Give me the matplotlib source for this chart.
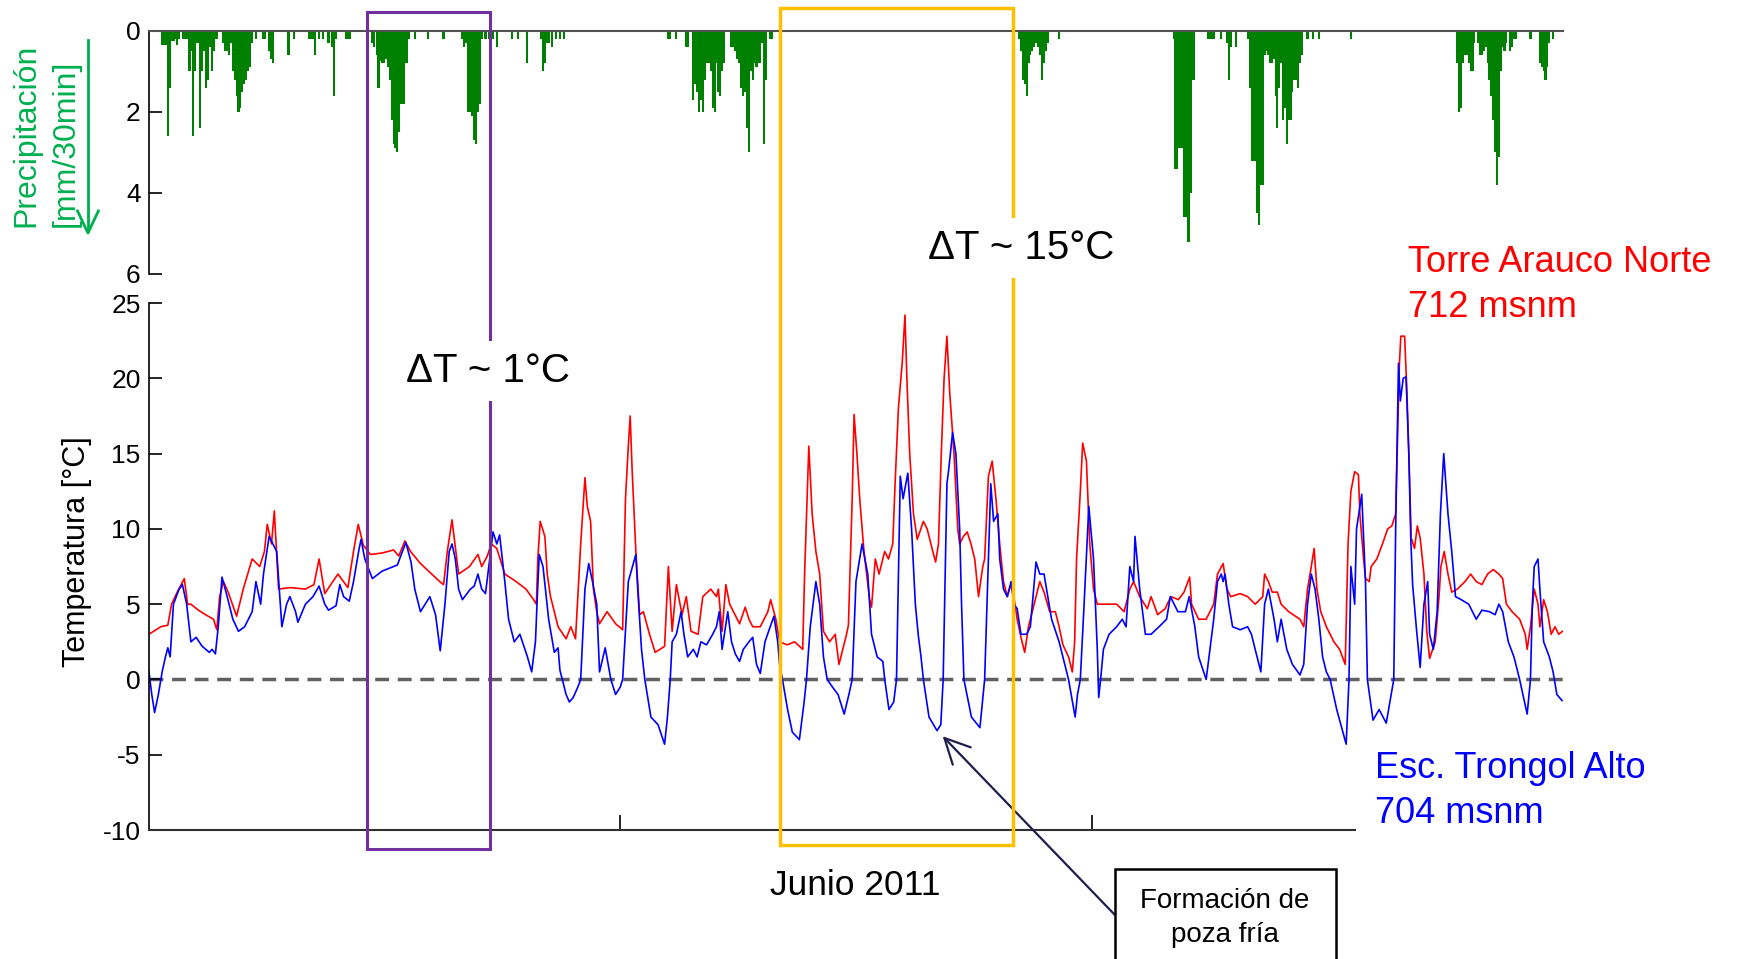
import matplotlib.pyplot as plt
import numpy as np
from matplotlib.patches import Rectangle
from matplotlib.transforms import blended_transform_factory

plt.rcParams['font.family'] = ['Liberation Sans', 'DejaVu Sans']
plt.rcParams['axes.unicode_minus'] = False

# --- data (x = days since 1 June 2011) ---
red_day = [0.00, 0.10, 0.25, 0.40, 0.48, 0.60, 0.75, 0.82, 0.89, 1.05, 1.20, 1.37, 1.44, 1.50, 1.58, 1.68,
           1.86, 2.00, 2.19, 2.35, 2.45, 2.51, 2.60, 2.66, 2.75, 3.00, 3.32, 3.50, 3.61, 3.73, 3.90, 4.01,
           4.22, 4.34, 4.44, 4.55, 4.70, 4.95, 5.19, 5.30, 5.43, 5.55, 5.76, 6.00, 6.17, 6.25, 6.33, 6.43,
           6.50, 6.57, 6.80, 6.98, 7.06, 7.18, 7.26, 7.38, 7.55, 7.79, 8.00, 8.16, 8.22, 8.25, 8.30, 8.40,
           8.45, 8.52, 8.68, 8.85, 8.95, 9.05, 9.16, 9.25, 9.30, 9.37, 9.43, 9.50, 9.56, 9.72, 9.90, 10.05,
           10.11, 10.17, 10.21, 10.25, 10.33, 10.41, 10.49, 10.62, 10.74, 10.94, 11.02, 11.10, 11.19, 11.31,
           11.40, 11.50, 11.65, 11.75, 11.92, 12.04, 12.08, 12.16, 12.24, 12.32, 12.40, 12.53, 12.65, 12.73,
           12.81, 12.97, 13.13, 13.19, 13.30, 13.38, 13.54, 13.70, 13.87, 13.91, 14.00, 14.07, 14.15, 14.23,
           14.31, 14.44, 14.56, 14.64, 14.72, 14.80, 14.84, 14.92, 14.96, 15.02, 15.08, 15.17, 15.29, 15.33,
           15.41, 15.49, 15.61, 15.69, 15.78, 15.83, 15.90, 15.98, 16.04, 16.08, 16.14, 16.22, 16.30, 16.43,
           16.51, 16.63, 16.69, 16.75, 16.81, 16.87, 16.93, 16.99, 17.08, 17.16, 17.20, 17.28, 17.36, 17.44,
           17.52, 17.60, 17.69, 17.73, 17.81, 17.89, 17.97, 18.05, 18.13, 18.21, 18.29, 18.35, 18.42, 18.50,
           18.58, 18.66, 18.74, 18.82, 18.90, 18.99, 19.11, 19.23, 19.31, 19.39, 19.51, 19.59, 19.64, 19.68,
           19.76, 19.81, 19.89, 19.96, 20.04, 20.12, 20.29, 20.53, 20.69, 20.81, 20.89, 21.02, 21.18, 21.26,
           21.32, 21.40, 21.56, 21.68, 21.84, 21.96, 22.08, 22.12, 22.27, 22.43, 22.59, 22.67, 22.79, 22.87,
           22.95, 23.15, 23.31, 23.47, 23.63, 23.67, 23.75, 23.83, 23.94, 24.02, 24.18, 24.42, 24.50, 24.58,
           24.66, 24.72, 24.78, 24.86, 24.98, 25.14, 25.26, 25.38, 25.44, 25.50, 25.58, 25.66, 25.69, 25.77,
           25.81, 25.89, 25.93, 26.05, 26.17, 26.28, 26.37, 26.45, 26.49, 26.53, 26.56, 26.64, 26.69, 26.73,
           26.78, 26.85, 26.91, 26.97, 27.05, 27.11, 27.17, 27.29, 27.37, 27.41, 27.48, 27.56, 27.64, 27.76,
           27.92, 28.04, 28.16, 28.28, 28.40, 28.52, 28.64, 28.72, 28.80, 28.92, 29.08, 29.20, 29.24, 29.31,
           29.39, 29.47, 29.51, 29.59, 29.67, 29.75, 29.83, 29.91, 29.99]
red_temp = [3.0, 3.2, 3.5, 3.6, 5.0, 5.8, 6.7, 5.0, 5.0, 4.6, 4.3, 4.0, 3.3, 5.5, 6.5, 5.8,
            4.2, 6.0, 8.0, 7.5, 8.5, 10.3, 9.0, 11.2, 6.0, 6.1, 6.0, 6.3, 8.0, 5.7, 6.5, 7.0,
            6.1, 8.5, 10.3, 8.9, 8.3, 8.4, 8.6, 8.2, 9.2, 8.5, 7.7, 7.0, 6.5, 6.3, 8.5, 10.6,
            8.8, 7.0, 7.5, 8.3, 7.5, 8.2, 9.0, 8.7, 7.0, 6.5, 6.0, 5.3, 5.0, 8.0, 10.5, 9.5,
            7.0, 5.5, 3.5, 2.7, 3.5, 2.7, 9.0, 13.4, 11.5, 10.5, 6.0, 4.5, 3.7, 4.5, 3.7, 3.3,
            12.0, 15.5, 17.5, 14.0, 8.5, 4.3, 4.5, 3.0, 1.8, 2.2, 7.5, 3.2, 6.3, 4.3,
            5.5, 3.2, 3.0, 5.5, 6.0, 5.5, 6.0, 3.2, 6.3, 5.0, 4.5, 3.7, 4.8, 4.0,
            3.5, 3.5, 4.5, 5.3, 4.0, 2.5, 2.3, 2.5, 2.0, 7.0, 15.5, 11.0, 8.5, 7.0,
            3.2, 2.5, 3.0, 1.0, 2.0, 3.0, 3.6, 12.0, 17.6, 15.0, 12.0, 8.5, 5.3, 4.8,
            8.0, 7.0, 8.5, 8.0, 9.0, 13.0, 18.0, 21.0, 24.2, 20.0, 15.0, 11.0, 9.3, 10.5,
            10.0, 8.5, 7.8, 9.0, 15.0, 20.0, 22.8, 19.0, 15.0, 10.0, 9.0, 9.5, 9.8, 9.0,
            8.0, 5.5, 7.5, 8.0, 13.5, 14.5, 12.0, 9.0, 6.5, 5.5, 6.3, 5.5, 4.0, 2.8,
            1.8, 3.5, 4.5, 5.5, 6.5, 5.8, 4.5, 4.5, 3.5, 2.3, 1.5, 0.5, 2.5, 8.0,
            12.5, 15.7, 14.5, 9.0, 6.0, 5.0, 5.0, 5.0, 4.5, 6.0, 6.5, 5.5, 4.7, 5.5,
            5.0, 4.3, 4.7, 5.5, 5.3, 5.8, 6.8, 5.0, 4.0, 4.0, 5.0, 7.0, 7.7, 6.0,
            5.5, 5.7, 5.5, 5.0, 5.5, 7.0, 6.5, 5.8, 5.8, 5.0, 4.5, 4.0, 3.5, 6.0,
            7.5, 8.7, 6.0, 4.5, 3.5, 2.5, 2.0, 1.0, 9.0, 12.5, 13.8, 13.6, 11.0, 8.0,
            6.7, 6.5, 7.5, 8.0, 9.0, 10.0, 10.2, 11.0, 16.0, 21.0, 22.8, 22.8, 19.0, 15.0,
            9.4, 8.7, 10.2, 9.4, 7.0, 3.2, 1.4, 2.5, 5.5, 7.5, 8.5, 7.0, 5.8, 6.0,
            6.5, 7.0, 6.5, 6.3, 7.0, 7.3, 7.0, 6.7, 5.0, 4.5, 4.0, 3.0, 2.0, 3.5,
            6.0, 5.0, 3.5, 5.3, 4.5, 3.0, 3.5, 3.0, 3.2]

blue_day = [0.00, 0.06, 0.12, 0.20, 0.28, 0.35, 0.40, 0.45, 0.52, 0.64, 0.71, 0.80, 0.89, 1.00, 1.13, 1.28,
            1.34, 1.41, 1.47, 1.55, 1.66, 1.78, 1.90, 2.03, 2.19, 2.27, 2.37, 2.43, 2.55, 2.63, 2.71, 2.82,
            2.92, 2.99, 3.11, 3.16, 3.32, 3.48, 3.61, 3.73, 3.81, 3.97, 4.05, 4.13, 4.25, 4.34, 4.46, 4.50,
            4.58, 4.74, 4.95, 5.27, 5.45, 5.56, 5.64, 5.76, 5.96, 6.08, 6.18, 6.28, 6.37, 6.43, 6.50, 6.57,
            6.65, 6.82, 6.90, 6.98, 7.06, 7.14, 7.30, 7.38, 7.44, 7.55, 7.63, 7.75, 7.87, 8.03, 8.12, 8.20,
            8.24, 8.28, 8.36, 8.48, 8.60, 8.68, 8.72, 8.77, 8.85, 8.92, 9.00, 9.10, 9.16, 9.25, 9.33, 9.41,
            9.50, 9.56, 9.68, 9.80, 9.90, 10.00, 10.05, 10.17, 10.33, 10.37, 10.45, 10.52, 10.65, 10.80,
            10.94, 11.00, 11.06, 11.10, 11.19, 11.29, 11.35, 11.43, 11.55, 11.63, 11.71, 11.83, 11.96, 12.04,
            12.10, 12.16, 12.28, 12.36, 12.44, 12.53, 12.61, 12.73, 12.81, 12.89, 12.97, 13.07, 13.18, 13.26,
            13.34, 13.38, 13.44, 13.55, 13.65, 13.80, 13.90, 13.95, 14.03, 14.15, 14.23, 14.31, 14.39, 14.50,
            14.62, 14.75, 14.85, 14.92, 15.00, 15.13, 15.25, 15.33, 15.45, 15.57, 15.61, 15.70, 15.80, 15.86,
            15.94, 16.00, 16.10, 16.18, 16.26, 16.32, 16.38, 16.43, 16.55, 16.72, 16.80, 16.85, 16.93, 16.97,
            17.05, 17.12, 17.20, 17.24, 17.29, 17.45, 17.63, 17.73, 17.86, 17.92, 18.01, 18.05, 18.13, 18.21,
            18.29, 18.35, 18.42, 18.50, 18.62, 18.70, 18.82, 18.90, 18.99, 19.15, 19.31, 19.43, 19.51, 19.65,
            19.70, 19.76, 19.84, 19.94, 20.04, 20.12, 20.15, 20.19, 20.25, 20.37, 20.53, 20.65, 20.73, 20.77,
            20.81, 20.89, 20.92, 21.02, 21.14, 21.26, 21.43, 21.59, 21.67, 21.83, 21.99, 22.07, 22.19, 22.27,
            22.43, 22.51, 22.59, 22.67, 22.75, 22.79, 22.83, 22.91, 22.99, 23.15, 23.31, 23.39, 23.51, 23.59,
            23.67, 23.75, 23.87, 23.94, 24.02, 24.14, 24.26, 24.42, 24.50, 24.58, 24.66, 24.74, 24.82, 24.90,
            24.98, 25.06, 25.20, 25.40, 25.46, 25.50, 25.58, 25.62, 25.73, 25.81, 25.85, 25.97, 26.10, 26.25,
            26.41, 26.45, 26.51, 26.55, 26.61, 26.67, 26.73, 26.77, 26.81, 26.89, 26.97, 27.05, 27.13, 27.17,
            27.25, 27.33, 27.40, 27.47, 27.56, 27.64, 27.72, 27.84, 28.00, 28.16, 28.28, 28.44, 28.56, 28.64,
            28.72, 28.84, 28.96, 29.08, 29.24, 29.31, 29.35, 29.39, 29.47, 29.51, 29.59, 29.71, 29.79, 29.87,
            29.98]
blue_temp = [0.5, -1.0, -2.2, -1.0, 0.5, 1.5, 2.1, 1.5, 5.0, 6.0, 6.3, 5.0, 2.5, 2.8, 2.2, 1.8,
             2.0, 1.7, 3.5, 6.8, 5.5, 4.0, 3.2, 3.5, 4.5, 6.5, 5.0, 7.0, 9.5, 9.0, 8.5, 3.5,
             5.0, 5.5, 4.5, 3.8, 5.0, 5.5, 6.2, 5.0, 4.6, 4.9, 6.3, 5.5, 5.2, 6.5, 8.7, 9.3,
             8.0, 6.7, 7.2, 7.6, 9.1, 7.8, 6.0, 4.5, 5.5, 4.3, 1.9, 5.0, 8.5, 9.0, 8.0, 6.0,
             5.3, 6.0, 6.2, 7.0, 6.0, 5.7, 9.8, 9.0, 9.6, 6.5, 4.0, 2.5, 3.0, 1.5, 0.5, 2.5,
             5.5, 8.3, 7.5, 4.0, 1.8, 2.1, 0.6, 0.0, -1.0, -1.5, -1.2, -0.5, 0.0, 6.0, 7.7, 6.5,
             5.0, 0.5, 2.1, 0.0, -1.0, -0.5, 0.0, 6.5, 8.3, 6.0, 2.0, 0.0, -2.5, -3.0,
             -4.3, -2.5, 0.0, 2.5, 3.0, 4.5, 3.0, 1.5, 2.0, 1.5, 2.5, 2.3, 3.0, 3.5,
             4.5, 2.0, 4.5, 2.5, 1.7, 1.2, 2.0, 2.5, 2.8, 1.0, 0.4, 2.5, 3.5, 4.2,
             2.5, 1.0, 0.0, -2.0, -3.5, -4.0, -1.5, 0.0, 3.5, 6.5, 5.0, 1.5, 0.0, -0.5,
             -1.0, -2.3, -1.0, 0.0, 6.5, 9.0, 7.0, 3.0, 1.5, 1.2, 0.0, -2.0, -1.5, 0.0,
             13.5, 12.0, 13.7, 10.0, 5.0, 3.0, 1.5, 0.0, -2.5, -3.4, -3.0, 0.0, 13.0, 14.0,
             16.4, 15.0, 10.0, 5.0, 0.0, -2.5, -3.2, 0.0, 13.0, 10.5, 11.0, 8.0, 6.0, 5.5,
             6.5, 5.0, 4.7, 3.0, 3.0, 3.5, 7.8, 7.0, 7.0, 4.0, 2.5, 1.0, 0.0, -2.5,
             -1.0, 0.0, 5.0, 11.5, 8.0, 2.0, -1.2, 0.0, 2.0, 3.0, 3.5, 4.0, 3.5, 5.5,
             7.5, 6.5, 9.5, 6.0, 3.0, 3.0, 3.5, 4.0, 5.5, 4.5, 4.5, 5.5, 3.5, 1.5,
             0.0, 2.0, 4.0, 6.5, 7.0, 6.5, 7.0, 5.0, 3.5, 3.3, 3.5, 3.0, 1.5, 0.5,
             5.0, 6.0, 4.0, 2.5, 4.0, 2.0, 1.0, 0.3, 1.0, 5.0, 7.0, 6.0, 4.0, 1.5,
             0.5, 0.0, -2.0, -4.3, 0.0, 7.5, 5.0, 10.0, 12.3, 6.5, 0.0, -2.7, -2.0, -2.9,
             0.0, 10.0, 21.0, 18.5, 20.0, 20.1, 14.9, 9.4, 6.3, 3.4, 0.8, 5.0, 6.5, 3.0,
             2.0, 4.5, 11.0, 15.0, 11.0, 8.5, 5.5, 5.3, 5.0, 4.0, 4.6, 4.5, 4.3, 5.0,
             4.5, 2.5, 1.5, 0.0, -2.3, 0.0, 5.0, 7.5, 8.0, 6.0, 2.5, 1.5, 0.5, -1.0,
             -1.4]

rain_day = [0.28, 0.32, 0.36, 0.40, 0.44, 0.48, 0.52, 0.56, 0.60, 0.64, 0.72, 0.76, 0.80, 0.86, 0.90, 0.93,
            0.97, 1.01, 1.05, 1.09, 1.13, 1.17, 1.21, 1.25, 1.29, 1.33, 1.37, 1.41, 1.45, 1.58, 1.62, 1.66,
            1.70, 1.74, 1.78, 1.82, 1.86, 1.90, 1.94, 1.98, 2.02, 2.06, 2.10, 2.14, 2.19, 2.27, 2.43, 2.47,
            2.55, 2.59, 2.63, 2.96, 3.08, 3.40, 3.44, 3.48, 3.53, 3.61, 3.69, 3.81, 3.89, 3.93, 3.97, 4.18,
            4.22, 4.26, 4.74, 4.78, 4.83, 4.87, 4.91, 4.95, 4.99, 5.03, 5.07, 5.11, 5.15, 5.19, 5.23, 5.26,
            5.31, 5.35, 5.39, 5.42, 5.46, 5.48, 5.52, 5.64, 5.92, 6.25, 6.65, 6.69, 6.73, 6.77, 6.82, 6.86,
            6.90, 6.94, 6.98, 7.02, 7.06, 7.14, 7.22, 7.30, 7.38, 7.71, 7.83, 8.03, 8.32, 8.36, 8.40, 8.44,
            8.48, 8.56, 8.64, 8.72, 8.81,
            11.02, 11.06, 11.19, 11.39, 11.43, 11.55, 11.59, 11.63, 11.67, 11.71, 11.75, 11.79, 11.84, 11.88,
            11.92, 11.96, 12.00, 12.04, 12.08, 12.12, 12.16, 12.20, 12.36, 12.40, 12.44, 12.48, 12.53, 12.57,
            12.61, 12.65, 12.69, 12.73, 12.77, 12.81, 12.85, 12.89, 12.93, 12.97, 13.01, 13.05, 13.09, 13.18,
            13.22,
            18.46, 18.50, 18.54, 18.58, 18.62, 18.66, 18.70, 18.74, 18.78, 18.82, 18.86, 18.90, 18.94, 18.99,
            19.03, 19.07, 19.31,
            21.74, 21.78, 21.82, 21.86, 21.90, 21.94, 21.97, 22.01, 22.04, 22.07, 22.10, 22.13, 22.16, 22.47,
            22.51, 22.55, 22.59, 22.75, 22.87, 22.91, 22.95, 23.07, 23.31, 23.35, 23.37, 23.41, 23.45, 23.49,
            23.51, 23.55, 23.59, 23.63, 23.67, 23.71, 23.75, 23.79, 23.83, 23.87, 23.91, 23.94, 23.98, 24.02,
            24.06, 24.10, 24.14, 24.18, 24.22, 24.26, 24.30, 24.34, 24.38, 24.42, 24.46, 24.58, 24.70, 24.82,
            25.50,
            27.76, 27.80, 27.84, 27.88, 27.92, 27.96, 28.00, 28.04, 28.08, 28.12, 28.20, 28.24, 28.28, 28.32,
            28.36, 28.40, 28.44, 28.48, 28.52, 28.56, 28.60, 28.64, 28.68, 28.72, 28.76, 28.80, 28.88, 28.92,
            28.96, 29.00, 29.31, 29.51, 29.55, 29.59, 29.63, 29.67, 29.71, 29.79]
rain_mm = [0.35, 0.35, 0.35, 2.6, 1.4, 0.25, 0.25, 0.2, 0.35, 0.2, 0.2, 0.2, 0.2, 1.0, 0.5, 2.6,
           1.0, 0.3, 0.3, 2.4, 1.0, 0.5, 1.4, 1.2, 0.4, 1.0, 0.5, 0.2, 0.2, 0.3, 0.5, 0.5,
           0.6, 0.3, 1.0, 1.2, 1.6, 2.0, 1.9, 1.5, 1.3, 1.2, 1.0, 0.9, 0.3, 0.2, 0.2, 0.2,
           0.5, 0.7, 0.8, 0.6, 0.2, 0.2, 0.2, 0.2, 0.6, 0.2, 0.2, 0.3, 0.4, 1.6, 0.2, 0.2,
           0.2, 0.2, 0.3, 0.4, 0.6, 1.4, 0.75, 0.8, 0.8, 0.7, 0.9, 1.2, 2.2, 2.8, 2.9, 3.0,
           2.5, 1.8, 1.8, 1.8, 0.8, 0.8, 0.2, 0.2, 0.2, 0.2, 0.2, 0.4, 0.3, 2.0, 2.0, 2.1,
           2.7, 2.8, 2.0, 1.8, 0.2, 0.2, 0.2, 0.2, 0.4, 0.2, 0.2, 0.8, 0.2, 1.0, 0.8, 0.3,
           0.3, 0.4, 0.2, 0.2, 0.2,
           0.2, 0.2, 0.2, 0.4, 0.4, 1.7, 1.3, 1.5, 2.0, 1.7, 2.0, 1.2, 0.8, 0.8,
           1.0, 1.9, 2.0, 0.8, 1.5, 1.6, 1.0, 0.8, 0.4, 0.4, 0.5, 0.7, 0.8, 1.4,
           1.6, 1.5, 2.4, 3.0, 1.0, 1.2, 0.8, 0.9, 0.8, 0.8, 0.3, 2.8, 1.2, 0.2,
           0.2,
           0.2, 0.5, 1.2, 1.3, 1.6, 0.8, 0.6, 0.5, 0.4, 0.3, 0.4, 0.6, 1.2, 0.8,
           0.5, 0.3, 0.2,
           0.2, 3.4, 3.4, 2.9, 2.9, 2.9, 4.6, 4.6, 5.2, 5.2, 4.0, 1.2, 1.2, 0.2,
           0.2, 0.2, 0.2, 0.2, 0.3, 1.2, 0.4, 0.4, 0.2, 0.2, 1.4, 3.2, 3.2, 3.2,
           4.5, 4.8, 3.8, 3.8, 0.6, 0.5, 0.6, 0.8, 0.8, 0.7, 1.6, 2.4, 1.4, 0.8,
           2.2, 1.9, 2.8, 2.2, 2.2, 1.5, 1.2, 1.2, 1.4, 0.8, 0.6, 0.2, 0.2, 0.2,
           0.2,
           0.8, 2.0, 1.9, 0.8, 0.6, 0.6, 0.8, 1.0, 1.0, 0.3, 0.3, 0.6, 0.6, 0.5,
           0.4, 0.8, 1.2, 1.6, 2.2, 3.0, 3.8, 3.1, 1.0, 0.4, 0.5, 0.3, 0.5, 0.4,
           0.2, 0.2, 0.2, 0.8, 0.9, 1.0, 1.2, 0.9, 0.3, 0.2]

# highlighted windows (days)
window_calm = (4.62, 7.24)
window_cold = (13.38, 18.33)
cold_pool_point = (16.84, -3.77)

fig = plt.figure(figsize=(17.38, 9.59), dpi=100)
ax_p = fig.add_axes([0.0857, 0.7143, 0.8136, 0.2534])
ax_t = fig.add_axes([0.0857, 0.1345, 0.8136, 0.5495])

# precipitation (inverted)
ax_p.bar(rain_day, rain_mm, width=0.045, color='#008000', linewidth=0)
ax_p.set_xlim(0, 30)
ax_p.set_ylim(6, 0)
ax_p.set_yticks([0, 2, 4, 6])
ax_p.set_xticks([])
ax_p.spines['right'].set_visible(False)
ax_p.spines['bottom'].set_visible(False)
ax_p.spines['top'].set_color('#505050')
ax_p.spines['top'].set_linewidth(1.5)
ax_p.spines['left'].set_linewidth(1.2)
ax_p.tick_params(axis='y', direction='in', length=9, width=1.2, labelsize=19, pad=6)
ax_p.patch.set_alpha(0)

# temperature
ax_t.plot(red_day, red_temp, color='#FF0000', lw=1.2)
ax_t.plot(blue_day, blue_temp, color='#0000FF', lw=1.2)
ax_t.axhline(0, color='#606060', lw=2.5, ls=(0, (4, 2.5)), zorder=1)
ax_t.set_xlim(0, 30)
ax_t.set_ylim(-10, 25)
ax_t.set_yticks(np.arange(-10, 26, 5))
ax_t.set_xticks([10, 20])
ax_t.set_xticklabels([])
ax_t.spines['right'].set_visible(False)
ax_t.spines['top'].set_visible(False)
ax_t.spines['bottom'].set_bounds(0, 25.58)
ax_t.spines['bottom'].set_color('#303030')
ax_t.spines['bottom'].set_linewidth(1.5)
ax_t.spines['left'].set_linewidth(1.2)
ax_t.tick_params(axis='y', direction='in', length=9, width=1.2, labelsize=19, pad=6)
ax_t.tick_params(axis='x', direction='in', length=11, width=1.2)
ax_t.patch.set_alpha(0)

# highlight boxes spanning both panels
blend = blended_transform_factory(ax_t.transData, fig.transFigure)
fig.add_artist(Rectangle((window_calm[0], 0.1147), window_calm[1] - window_calm[0], 0.8731,
                         transform=blend, fill=False, edgecolor='#7030A0', lw=2.2))
fig.add_artist(Rectangle((window_cold[0], 0.1189), window_cold[1] - window_cold[0], 0.8724,
                         transform=blend, fill=False, edgecolor='#FFC000', lw=2.5))

white = dict(facecolor='white', edgecolor='none', pad=8)
fig.text(0.2808, 0.6131, 'ΔT ~ 1°C', fontsize=29, ha='center', va='center', bbox=white)
fig.text(0.5875, 0.7414, 'ΔT ~ 15°C', fontsize=29, ha='center', va='center', bbox=white)

# axis labels
fig.text(0.0443, 0.4244, 'Temperatura [°C]', rotation=90, fontsize=22, ha='center', va='center')
fig.text(0.015, 0.7633, 'Precipitación', rotation=90, fontsize=23, ha='center', va='bottom', color='#00B050')
fig.text(0.038, 0.7633, '[mm/30min]', rotation=90, fontsize=23, ha='center', va='bottom', color='#00B050')
fig.add_artist(plt.Line2D([0.0506, 0.0506], [0.9583, 0.7590], color='#00B050', lw=2))
fig.add_artist(plt.Line2D([0.0446, 0.0506, 0.0566], [0.7800, 0.7570, 0.7800], color='#00B050', lw=2))

# station labels
fig.text(0.8101, 0.7164, 'Torre Arauco Norte', fontsize=26, color='#FF0000', va='baseline')
fig.text(0.8101, 0.6694, '712 msnm', fontsize=26, color='#FF0000', va='baseline')
fig.text(0.7911, 0.1887, 'Esc. Trongol Alto', fontsize=26, color='#0000FF', va='baseline')
fig.text(0.7911, 0.1418, '704 msnm', fontsize=26, color='#0000FF', va='baseline')

fig.text(0.492, 0.0667, 'Junio 2011', fontsize=25.5, ha='center', va='baseline')

# callout
fig.add_artist(Rectangle((0.6415, -0.05), 0.127, 0.1438, transform=fig.transFigure,
                         fill=False, edgecolor='black', lw=1.8))
fig.text(0.7049, 0.0532, 'Formación de', fontsize=20, ha='center', va='baseline')
fig.text(0.7049, 0.0180, 'poza fría', fontsize=20, ha='center', va='baseline')
ax_t.annotate('', xy=cold_pool_point, xycoords='data', xytext=(0.6415, 0.0459),
              textcoords='figure fraction',
              arrowprops=dict(arrowstyle='->,head_length=0.9,head_width=0.45', color='#1F1F4F',
                              lw=1.6, shrinkA=0, shrinkB=0, mutation_scale=20))

fig.savefig('out.png', dpi=100)
